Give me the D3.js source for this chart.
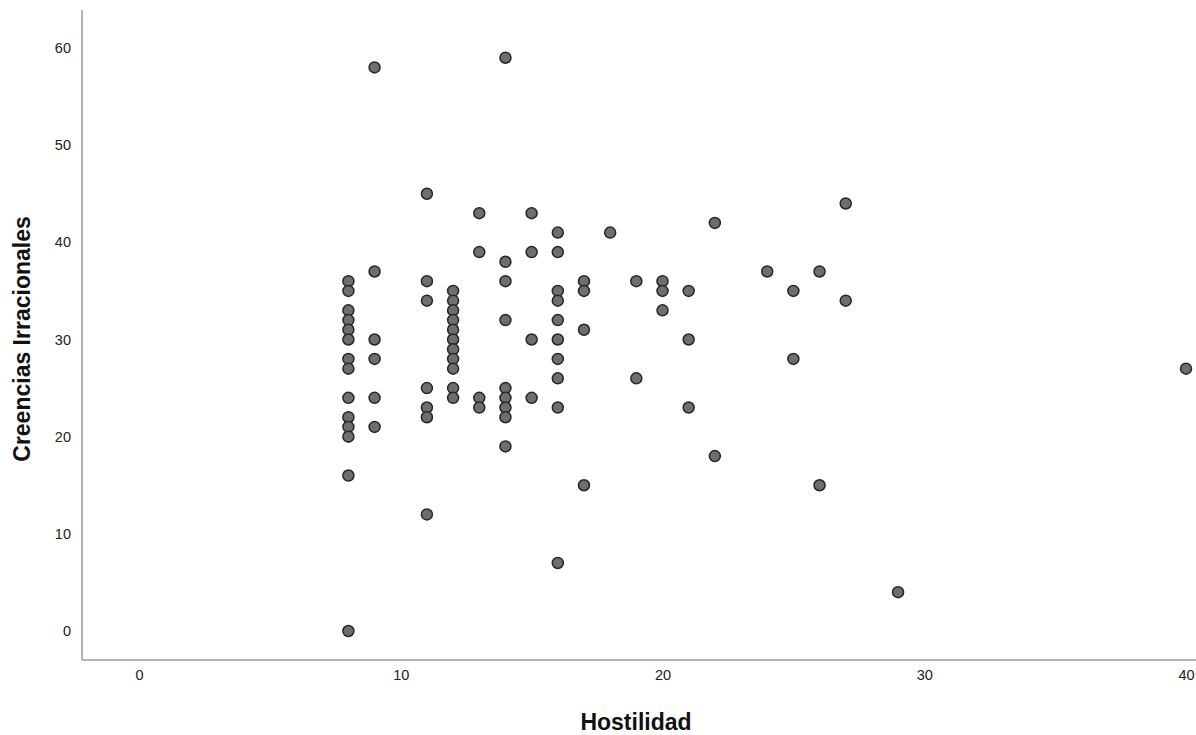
<!DOCTYPE html>
<html>
<head>
<meta charset="utf-8">
<script src="https://cdn.jsdelivr.net/npm/d3@7"></script>
<style>
  body { margin: 0; background: #fff; }
  svg { display: block; font-family: "Liberation Sans", Arial, sans-serif; }
</style>
</head>
<body>
<svg id="chart" width="1196" height="735"></svg>
<script>
// Hostilidad (x) values and their Creencias Irracionales (y) values, one pair per point
const hostilidad = [
  8, 8, 8, 8, 8, 8, 8, 8, 8, 8, 8, 8, 8, 8,
  9, 9, 9, 9, 9, 9,
  11, 11, 11, 11, 11, 11, 11,
  12, 12, 12, 12, 12, 12, 12, 12, 12, 12, 12,
  13, 13, 13, 13,
  14, 14, 14, 14, 14, 14, 14, 14, 14,
  15, 15, 15, 15,
  16, 16, 16, 16, 16, 16, 16, 16, 16, 16,
  17, 17, 17, 17,
  18,
  19, 19,
  20, 20, 20,
  21, 21, 21,
  22, 22,
  24,
  25, 25,
  26, 26,
  27, 27,
  29,
  40
];
const creencias = [
  36, 35, 33, 32, 31, 30, 28, 27, 24, 22, 21, 20, 16, 0,
  58, 37, 30, 28, 24, 21,
  45, 36, 34, 25, 23, 22, 12,
  35, 34, 33, 32, 31, 30, 29, 28, 27, 25, 24,
  43, 39, 24, 23,
  59, 38, 36, 32, 25, 24, 23, 22, 19,
  43, 39, 30, 24,
  41, 39, 35, 34, 32, 30, 28, 26, 23, 7,
  36, 35, 31, 15,
  41,
  36, 26,
  36, 35, 33,
  35, 30, 23,
  42, 18,
  37,
  35, 28,
  37, 15,
  44, 34,
  4,
  27
];
const xTicks = [0, 10, 20, 30, 40];
const yTicks = [0, 10, 20, 30, 40, 50, 60];

const svg = d3.select("#chart");

const x = d3.scaleLinear().domain([0, 40]).range([139, 1186]);
const y = d3.scaleLinear().domain([0, 60]).range([631, 48]);

const axisLeftX = 82, axisBottomY = 660, axisTopY = 10;

// axis lines
svg.append("line")
  .attr("x1", axisLeftX).attr("x2", axisLeftX)
  .attr("y1", axisTopY).attr("y2", axisBottomY)
  .attr("stroke", "#9a9a9a").attr("stroke-width", 1.5);
svg.append("line")
  .attr("x1", axisLeftX).attr("x2", 1196)
  .attr("y1", axisBottomY).attr("y2", axisBottomY)
  .attr("stroke", "#9a9a9a").attr("stroke-width", 1.5);

// y ticks (labels only)
const yAxis = svg.append("g")
  .attr("transform", "translate(" + axisLeftX + ",0)")
  .call(d3.axisLeft(y).tickValues(yTicks).tickSize(0).tickPadding(11));
yAxis.select(".domain").remove();
yAxis.selectAll("text")
  .attr("font-family", "Liberation Sans, Arial, sans-serif")
  .attr("font-size", 14.5).attr("fill", "#222");

// x ticks (labels only)
const xAxis = svg.append("g")
  .attr("transform", "translate(0," + axisBottomY + ")")
  .call(d3.axisBottom(x).tickValues(xTicks).tickSize(0).tickPadding(10));
xAxis.select(".domain").remove();
xAxis.selectAll("text")
  .attr("font-family", "Liberation Sans, Arial, sans-serif")
  .attr("font-size", 14.5).attr("fill", "#222");

// axis titles
svg.append("text")
  .attr("x", 636).attr("y", 730)
  .attr("text-anchor", "middle")
  .attr("font-size", 23).attr("font-weight", "bold").attr("fill", "#111")
  .text("Hostilidad");
svg.append("text")
  .attr("transform", "translate(30,339) rotate(-90)")
  .attr("text-anchor", "middle")
  .attr("font-size", 23).attr("font-weight", "bold").attr("fill", "#111")
  .text("Creencias Irracionales");

// points
svg.append("g").selectAll("circle")
  .data(d3.range(hostilidad.length))
  .enter()
  .append("circle")
  .attr("cx", i => x(hostilidad[i]))
  .attr("cy", i => y(creencias[i]))
  .attr("r", 5.5)
  .attr("fill", "#6e6e6e")
  .attr("stroke", "#262626")
  .attr("stroke-width", 1.5);
</script>
</body>
</html>
